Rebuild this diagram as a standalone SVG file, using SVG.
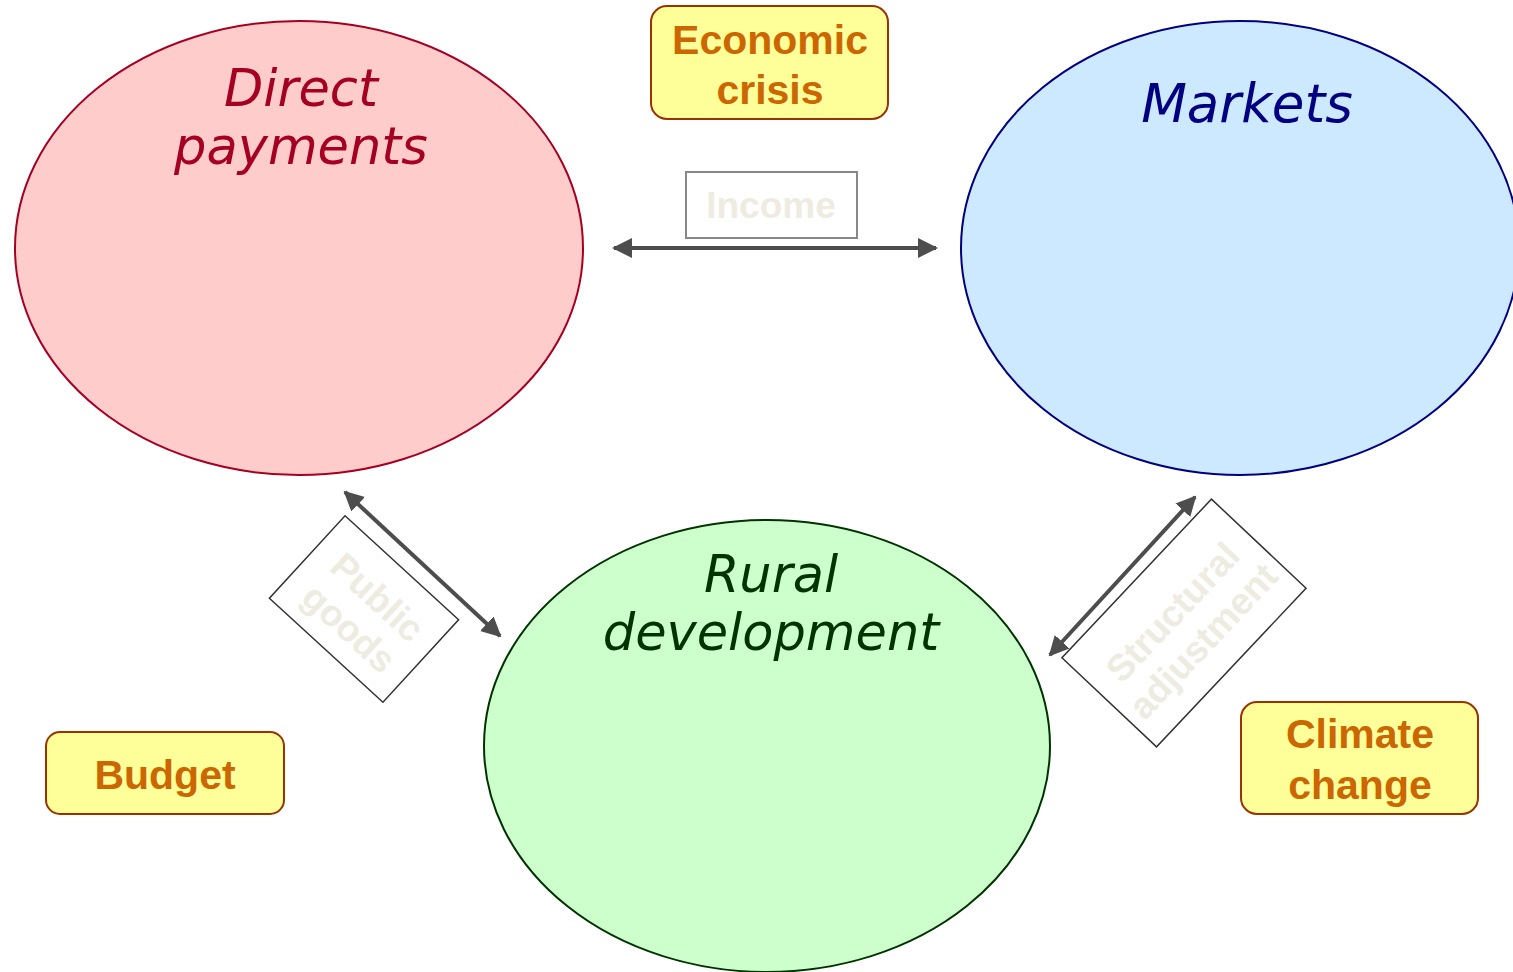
<svg xmlns="http://www.w3.org/2000/svg" width="1513" height="972" viewBox="0 0 1513 972">
<defs>
<marker id="ah" viewBox="0 0 10 10" refX="9" refY="5" markerWidth="5" markerHeight="5" orient="auto-start-reverse" markerUnits="strokeWidth">
<path d="M0,0 L10,5 L0,10 z" fill="#4d4d4d"/>
</marker>
</defs>
<style>
.title{font-family:"DejaVu Sans",Verdana,sans-serif;font-style:italic;font-size:51px;text-anchor:middle}
.ybox{fill:#ffff99;stroke:#993300;stroke-width:2}
.ytxt{font-family:"Liberation Sans",Arial,sans-serif;font-weight:bold;font-size:41px;fill:#cc6600;text-anchor:middle}
.lbox{fill:#ffffff;stroke:#333333;stroke-width:1.5}
.ltxt{font-family:"Liberation Sans",Arial,sans-serif;font-weight:bold;font-size:37px;fill:#eeece1;text-anchor:middle}
.conn{stroke:#4d4d4d;stroke-width:4;fill:none;marker-start:url(#ah);marker-end:url(#ah)}
</style>
<rect width="1513" height="972" fill="#ffffff"/>
<g id="direct-payments">
<ellipse cx="299" cy="248" rx="284" ry="227" fill="#ffcccc" stroke="#a50021" stroke-width="2"/>
<text class="title" fill="#a50021" x="301" y="106">Direct</text>
<text class="title" fill="#a50021" x="301" y="164">payments</text>
</g>
<g id="markets">
<ellipse cx="1240" cy="248" rx="279" ry="227" fill="#cce9ff" stroke="#000080" stroke-width="2"/>
<text class="title" fill="#000080" x="1247" y="122" style="font-size:53px">Markets</text>
</g>
<g id="rural-development">
<ellipse cx="767" cy="746" rx="283" ry="226" fill="#ccffcc" stroke="#003300" stroke-width="2"/>
<text class="title" fill="#003300" x="771" y="592">Rural</text>
<text class="title" fill="#003300" x="771" y="650">development</text>
</g>
<g id="economic-crisis">
<rect class="ybox" x="651" y="6" width="237" height="113" rx="16"/>
<text class="ytxt" x="770" y="54">Economic</text>
<text class="ytxt" x="770" y="104">crisis</text>
</g>
<g id="budget">
<rect class="ybox" x="46" y="732" width="238" height="82" rx="14"/>
<text class="ytxt" x="165" y="789">Budget</text>
</g>
<g id="climate-change">
<rect class="ybox" x="1241" y="702" width="237" height="112" rx="16"/>
<text class="ytxt" x="1360" y="748">Climate</text>
<text class="ytxt" x="1360" y="799">change</text>
</g>
<g id="connectors">
<line class="conn" x1="614" y1="248" x2="936" y2="248"/>
<line class="conn" x1="345" y1="492" x2="500" y2="636"/>
<line class="conn" x1="1050" y1="655" x2="1195" y2="497"/>
</g>
<g id="income">
<rect x="686" y="172" width="171" height="66" fill="#ffffff" stroke="#888888" stroke-width="2"/>
<text class="ltxt" x="771" y="218">Income</text>
</g>
<g id="public-goods" transform="translate(364,609) rotate(42.5)">
<rect class="lbox" x="-77" y="-56" width="154" height="112"/>
<text class="ltxt" x="2" y="-5">Public</text>
<text class="ltxt" x="2" y="37">goods</text>
</g>
<g id="structural-adjustment" transform="translate(1184,623) rotate(-46.7)">
<rect class="lbox" x="-109" y="-65" width="218" height="130"/>
<text class="ltxt" x="0" y="-3">Structural</text>
<text class="ltxt" x="0" y="39">adjustment</text>
</g>
</svg>
